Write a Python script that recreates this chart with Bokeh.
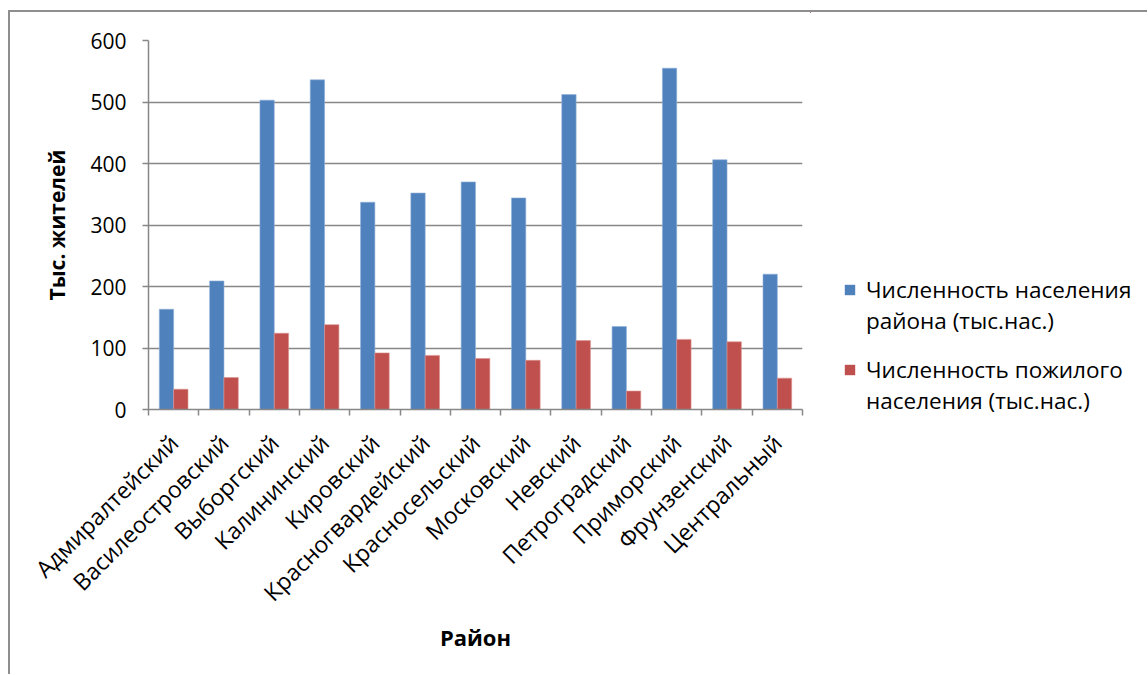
import math
from bokeh.plotting import figure
from bokeh.layouts import row
from bokeh.models import ColumnDataSource, FixedTicker, Legend, LegendItem
from bokeh.embed import file_html
from bokeh.resources import INLINE

# Районы Санкт-Петербурга
districts = [
    "Адмиралтейский", "Василеостровский", "Выборгский", "Калининский",
    "Кировский", "Красногвардейский", "Красносельский", "Московский",
    "Невский", "Петроградский", "Приморский", "Фрунзенский", "Центральный",
]
# Численность населения района, тыс. чел.
population = [163, 209, 503, 536, 337, 352, 370, 344, 512, 135, 555, 406, 220]
# Численность пожилого населения, тыс. чел.
elderly = [33, 52, 124, 138, 92, 88, 83, 80, 112, 30, 114, 110, 51]

# legend captions, two lines each
series_pop = ["Численность населения", "района (тыс.нас.)"]
series_old = ["Численность пожилого", "населения (тыс.нас.)"]
y_ticks = [0, 100, 200, 300, 400, 500, 600]

BLUE = "#4F81BD"
RED = "#C0504D"
GRID = "#878787"
FONT = "Open Sans"

centers = [i + 0.5 for i in range(len(districts))]
bar_w = 0.285
src = ColumnDataSource(dict(
    x_pop=[c - bar_w / 2 for c in centers],
    x_old=[c + bar_w / 2 for c in centers],
    population=population,
    elderly=elderly,
))

CHART_W = 800
TOTAL_W = 1137
TOTAL_H = 662

p = figure(
    width=CHART_W, height=TOTAL_H,
    x_range=(0, len(districts)), y_range=(0, 600),
    output_backend="svg", toolbar_location=None,
    min_border_left=138, min_border_top=28,
    min_border_right=8, min_border_bottom=265,
)
p.outline_line_color = None
p.background_fill_color = "white"
p.border_fill_color = "white"

bar_style = dict(width=bar_w, source=src, line_width=0.6)
p.vbar(x="x_pop", top="population", fill_color=BLUE, line_color="#8fb0d8", **bar_style)
p.vbar(x="x_old", top="elderly", fill_color=RED, line_color="#dc9391", **bar_style)

# x axis: labels at category centers, tick marks at category boundaries
xax = p.xaxis[0]
xax.ticker = FixedTicker(ticks=centers,
                         minor_ticks=list(range(len(districts) + 1)))
xax.major_label_overrides = {c: d for c, d in zip(centers, districts)}
xax.major_label_orientation = math.pi / 4
xax.major_tick_out = 0
xax.major_tick_in = 0
xax.minor_tick_out = 6
xax.minor_tick_in = 0
xax.minor_tick_line_color = GRID
xax.minor_tick_line_width = 1.5
xax.axis_line_color = GRID
xax.axis_line_width = 1.5
xax.major_label_text_font = FONT
xax.major_label_text_font_size = "23px"
xax.major_label_text_color = "black"
xax.major_label_standoff = 23
xax.axis_label = "Район"
xax.axis_label_text_font = FONT
xax.axis_label_text_font_size = "22px"
xax.axis_label_text_font_style = "bold"
xax.axis_label_text_color = "black"
xax.axis_label_standoff = 0

yax = p.yaxis[0]
yax.ticker = FixedTicker(ticks=y_ticks)
yax.minor_tick_line_color = None
yax.major_tick_out = 6
yax.major_tick_in = 0
yax.major_tick_line_color = GRID
yax.major_tick_line_width = 1.5
yax.axis_line_color = GRID
yax.axis_line_width = 1.5
yax.major_label_text_font = FONT
yax.major_label_text_font_size = "21px"
yax.major_label_text_color = "black"
yax.major_label_standoff = 16
yax.axis_label = "Тыс. жителей"
yax.axis_label_text_font = FONT
yax.axis_label_text_font_size = "21px"
yax.axis_label_text_font_style = "bold"
yax.axis_label_text_color = "black"
yax.axis_label_standoff = 16

p.xgrid.grid_line_color = None
p.ygrid.grid_line_color = GRID
p.ygrid.grid_line_width = 1.5

# Legend panel to the right of the chart; its bars sit outside its visible ranges
lp = figure(
    width=TOTAL_W - CHART_W, height=TOTAL_H,
    x_range=(100, 101), y_range=(-2, -1),
    output_backend="svg", toolbar_location=None,
    x_axis_location=None, y_axis_location=None,
    min_border=0,
)
lp.frame_align = False
lp.outline_line_color = None
lp.grid.grid_line_color = None
lp.background_fill_color = "white"
lp.border_fill_color = "white"
lg_pop = lp.vbar(x="x_pop", top="population", fill_color=BLUE, line_color=None,
                 width=bar_w, source=src)
lg_old = lp.vbar(x="x_old", top="elderly", fill_color=RED, line_color=None,
                 width=bar_w, source=src)
# blank swatch for the second line of each caption
lg_blank = lp.vbar(x="x_pop", top="population", fill_color=None, line_color=None,
                   width=bar_w, source=src)

legend_style = dict(
    border_line_color=None, background_fill_alpha=0,
    padding=0, margin=0, spacing=0,
    glyph_width=13, glyph_height=13, label_standoff=10, label_height=31,
    label_text_font=FONT, label_text_font_size="22.5px", label_text_color="black",
)
legend_pop = Legend(
    items=[LegendItem(label=series_pop[0], renderers=[lg_pop]),
           LegendItem(label=series_pop[1], renderers=[lg_blank])],
    location=(33, 338), **legend_style,
)
legend_old = Legend(
    items=[LegendItem(label=series_old[0], renderers=[lg_old]),
           LegendItem(label=series_old[1], renderers=[lg_blank])],
    location=(33, 258), **legend_style,
)
lp.add_layout(legend_pop, "center")
lp.add_layout(legend_old, "center")

layout = row(p, lp, spacing=0)
layout.styles = {
    "margin-left": "8px", "margin-top": "10px",
    "border-left": "2px solid #8e8e8e", "border-top": "2px solid #8e8e8e",
}

open("out.html", "w").write(file_html(layout, INLINE))
